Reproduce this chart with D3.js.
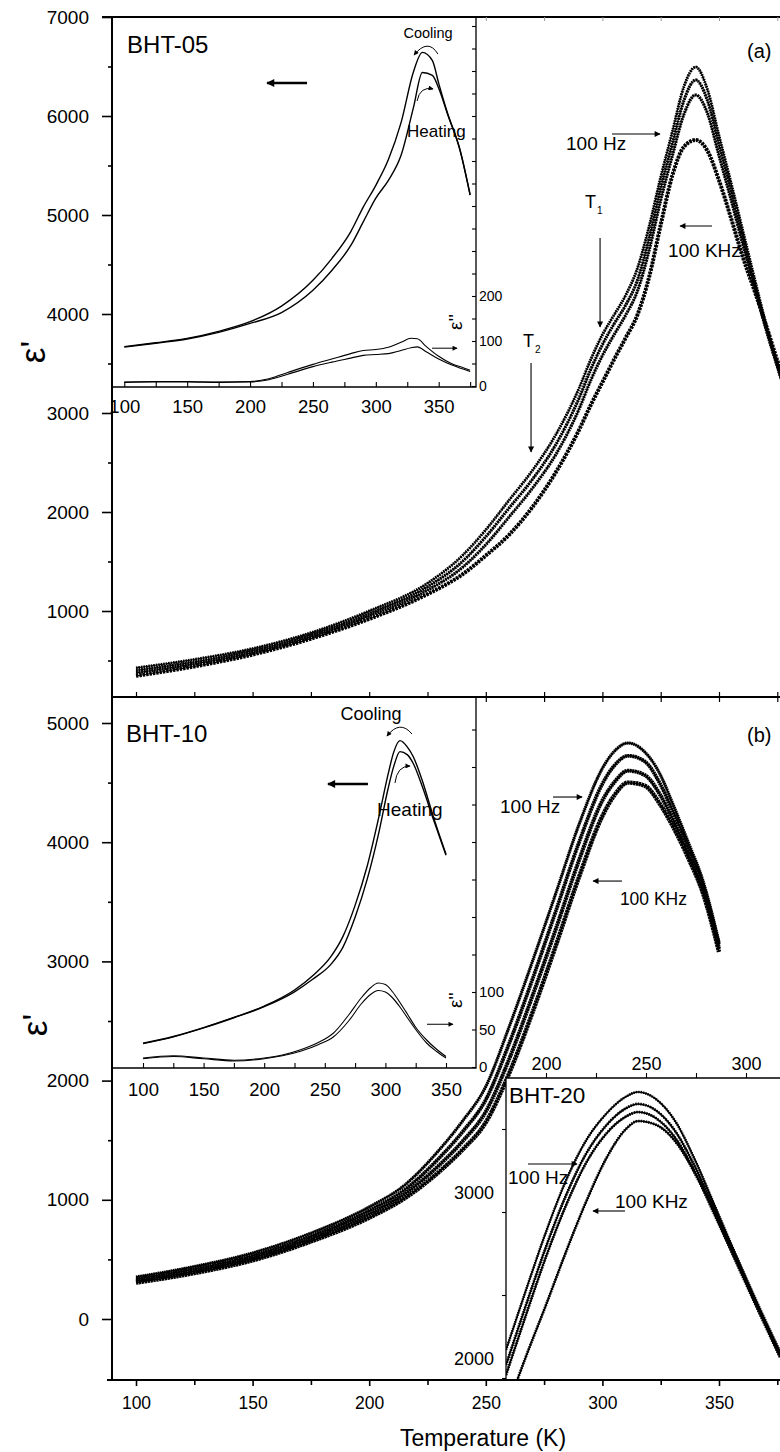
<!DOCTYPE html>
<html><head><meta charset="utf-8">
<script src="https://cdn.jsdelivr.net/npm/d3@7"></script>
<style>
body{margin:0;background:#fff}
svg{display:block;background:#fff}
text{font-family:"Liberation Sans",Arial,Helvetica,sans-serif;fill:#000}
</style>
</head><body>
<svg id="c" width="780" height="1452"></svg>
<script>
// ---------------- DATA ----------------
// Panel (a): BHT-05, eps' vs T at four frequencies (100 Hz ... 100 kHz)
const tA = [100,125,150,175,200,225,240,250,260,270,280,290,295,300,305,310,315,320,325,330,335,340,345,350,355,360,365,370,375,380];
const epsA_100Hz = [425,510,620,780,1000,1280,1560,1820,2120,2420,2780,3250,3540,3790,3990,4190,4460,4880,5380,5840,6300,6495,6270,5800,5340,4860,4380,3910,3490,3100];
const epsA_1kHz  = [400,485,600,760,975,1245,1500,1750,2040,2330,2680,3150,3440,3690,3900,4090,4340,4760,5270,5720,6160,6364,6160,5710,5260,4790,4330,3880,3480,3100];
const epsA_10kHz = [375,465,580,740,950,1210,1440,1670,1950,2240,2580,3040,3330,3580,3790,3990,4230,4640,5150,5600,6020,6212,6030,5600,5170,4720,4290,3860,3470,3100];
const epsA_100kHz= [345,440,560,720,920,1170,1370,1560,1770,2050,2400,2830,3080,3310,3540,3760,3990,4370,4900,5400,5690,5758,5650,5350,4980,4590,4250,3900,3530,3180];

// Panel (b): BHT-10 main curves
const tB = [100,125,150,175,200,215,230,240,250,260,270,280,290,300,305,311,318,325,330,337,343,350];
const epsB_100Hz = [352,440,554,720,940,1120,1418,1660,1950,2450,3000,3570,4150,4620,4760,4832,4760,4560,4330,3990,3683,3160];
const epsB_1kHz  = [335,420,532,695,910,1080,1350,1570,1840,2310,2850,3420,4000,4490,4640,4725,4680,4480,4270,3950,3650,3140];
const epsB_10kHz = [320,402,512,672,880,1045,1290,1490,1740,2180,2710,3270,3850,4350,4500,4600,4565,4390,4200,3900,3610,3110];
const epsB_100kHz= [305,385,492,650,850,1010,1235,1420,1650,2060,2570,3130,3710,4220,4390,4500,4475,4310,4140,3860,3580,3080];

// Inset BHT-05: cooling / heating eps' and eps''
const tIA = [100,125,150,175,200,225,250,265,280,290,300,310,320,330,337,345,350,357,367,375];
const epsIA_cool = [3670,3710,3754,3825,3922,4080,4340,4560,4830,5080,5300,5560,5930,6450,6643,6560,6330,6030,5657,5202];
const epsIA_heat = [3665,3705,3748,3815,3905,4015,4240,4440,4690,4930,5170,5350,5600,6090,6440,6410,6280,6020,5650,5202];
const tIA2 = [100,125,150,175,200,215,230,250,265,280,290,300,310,320,328,333,340,350,360,370,375];
const eps2IA_cool = [9,10,10,9,10,16,30,48,60,72,79,81,86,97,106,105,88,66,50,40,35];
const eps2IA_heat = [8,9,9,8,9,14,26,43,53,62,68,70,72,79,85,87,76,60,47,37,32];

// Inset BHT-10: cooling / heating eps' and eps''
const tIB = [100,125,150,175,200,225,240,255,265,275,285,295,302,307,312,318,323,330,340,350];
const epsIB_cool = [2313,2370,2445,2530,2625,2760,2880,3040,3210,3470,3800,4230,4560,4760,4852,4800,4717,4530,4200,3900];
const epsIB_heat = [2310,2367,2442,2527,2620,2745,2850,2975,3120,3370,3690,4100,4440,4640,4760,4735,4660,4480,4180,3890];
const tIB2 = [100,125,150,175,200,215,230,245,257,270,280,288,294,300,306,312,318,325,334,342,350];
const eps2IB_cool = [12,15,12,9,12,16,23,33,45,70,92,106,112,110,100,86,71,53,36,24,14];
const eps2IB_heat = [11,14,11,8,11,15,21,30,40,62,84,97,102,100,92,80,66,50,32,21,12];

// Inset BHT-20: four frequencies
const tC = [180,190,200,210,220,230,240,246,255,265,275,285,295,305,317];
const epsC_100Hz = [2169,2530,2880,3190,3430,3590,3695,3723,3680,3540,3300,3020,2740,2470,2160];
const epsC_1kHz  = [2078,2440,2790,3100,3350,3520,3625,3651,3612,3480,3260,3000,2725,2455,2145];
const epsC_10kHz = [2018,2380,2730,3040,3295,3470,3575,3602,3565,3440,3230,2985,2712,2445,2135];
const epsC_100kHz= [1800,2130,2440,2760,3060,3320,3500,3548,3525,3420,3220,2965,2700,2435,2125];

// Tick labels
const xTicksMain = [100,150,200,250,300,350];
const xMinorMain = [125,175,225,275,325,375];
const yTicksA = [1000,2000,3000,4000,5000,6000,7000];
const yMinorA = [500,1500,2500,3500,4500,5500,6500];
const yTicksB = [0,1000,2000,3000,4000,5000];
const yMinorB = [500,1500,2500,3500,4500];
const xTicksInset = [100,150,200,250,300,350];
const yTicksIA2 = [0,100,200];
const yTicksIB2 = [0,50,100];
const xTicksIC = [200,250,300];
const yTicksIC = [2000,3000];

// ---------------- SCALES / LAYOUT ----------------
const FONT = '"Liberation Sans",Arial,Helvetica,sans-serif';
const svg = d3.select("#c");
const x  = d3.scaleLinear().domain([100,350]).range([136,719]);
const yA = d3.scaleLinear().domain([3000,7000]).range([413,17]);
const yB = d3.scaleLinear().domain([0,5000]).range([1319,723]);
const L = 112, R = 792, TOP = 17, MID = 697, BOT = 1380;

const xIA = d3.scaleLinear().domain([100,350]).range([124.3,438.7]);
const yIA2 = d3.scaleLinear().domain([0,200]).range([386,296]);
const IA = {x0:112, y0:17, x1:476, y1:387};

const xIB = d3.scaleLinear().domain([100,350]).range([143,446]);
const yIB2 = d3.scaleLinear().domain([0,100]).range([1067,992]);
const IB = {x0:113, y0:697, x1:476, y1:1068};

const xIC = d3.scaleLinear().domain([200,300]).range([546,746]);
const yIC = d3.scaleLinear().domain([2000,3000]).range([1378,1212]);
const IC = {x0:506, y0:1078, x1:792, y1:1380};

// ---------------- DEFS ----------------
const defs = svg.append("defs");
function clip(id, r){ defs.append("clipPath").attr("id",id).append("rect")
  .attr("x",r.x0).attr("y",r.y0).attr("width",r.x1-r.x0).attr("height",r.y1-r.y0); }
clip("cA",{x0:L,y0:TOP,x1:R,y1:MID});
clip("cB",{x0:L,y0:MID,x1:R,y1:BOT});
clip("cIA",IA); clip("cIB",IB); clip("cIC",IC);
function marker(id,w,h){
  defs.append("marker").attr("id",id).attr("viewBox","0 0 10 10").attr("refX",9).attr("refY",5)
    .attr("markerWidth",w).attr("markerHeight",h).attr("markerUnits","userSpaceOnUse").attr("orient","auto")
    .append("path").attr("d","M0,0L10,5L0,10z").attr("fill","#000");
}
marker("ah",8,6); marker("ahB",10,8); marker("ahS",6,5);

// ---------------- HELPERS ----------------
function series(g, ts, vs, sx, sy, lw, bw, dash){
  const data = ts.map((t,i)=>[t,vs[i]]);
  const gen = d3.line().x(d=>sx(d[0])).y(d=>sy(d[1])).curve(d3.curveMonotoneX);
  g.append("path").attr("d",gen(data)).attr("fill","none").attr("stroke","#000").attr("stroke-width",lw);
  if(bw) g.append("path").attr("d",gen(data)).attr("fill","none").attr("stroke","#000")
      .attr("stroke-width",bw).attr("stroke-dasharray",dash);
}
function text(g, px, py, s, size, anchor){
  return g.append("text").attr("x",px).attr("y",py).attr("font-size",size)
    .attr("text-anchor",anchor||"start").text(s);
}
function arrow(g, x1,y1,x2,y2, w, m){
  g.append("line").attr("x1",x1).attr("y1",y1).attr("x2",x2).attr("y2",y2)
    .attr("stroke","#000").attr("stroke-width",w).attr("marker-end","url(#"+m+")");
}
function curved(g, p0, c, p1, m){
  g.append("path").attr("d",`M${p0[0]},${p0[1]}Q${c[0]},${c[1]} ${p1[0]},${p1[1]}`)
    .attr("fill","none").attr("stroke","#000").attr("stroke-width",1).attr("marker-end","url(#"+m+")");
}
function styleAxis(g, size, sw, col){
  g.select(".domain").remove();
  g.attr("font-family",FONT).attr("font-size",size);
  g.selectAll("line").attr("stroke",col||"#000").attr("stroke-width",sw||1.3);
  g.selectAll("text").attr("fill","#000");
  return g;
}
function stepTicks(a,b,s){ const r=[]; for(let v=a; v<=b+1e-9; v+=s) r.push(v); return r; }

// ---------------- MAIN CURVES ----------------
const gA = svg.append("g").attr("clip-path","url(#cA)");
series(gA,tA,epsA_100Hz,x,yA,1,3,"1.6,0.9");
series(gA,tA,epsA_1kHz,x,yA,1,3.2,"1.8,0.8");
series(gA,tA,epsA_10kHz,x,yA,1,3.2,"1.8,0.8");
series(gA,tA,epsA_100kHz,x,yA,1,4,"2.4,1");

const gB = svg.append("g").attr("clip-path","url(#cB)");
series(gB,tB,epsB_100Hz,x,yB,1.4,3.2,"1.6,0.6");
series(gB,tB,epsB_1kHz,x,yB,1.4,3.8,"2,0.5");
series(gB,tB,epsB_10kHz,x,yB,1.4,4,"2,0.5");
series(gB,tB,epsB_100kHz,x,yB,1.4,4.4,"2.4,0.5");

// ---------------- INSET BHT-05 ----------------
const ia = svg.append("g");
ia.append("rect").attr("x",IA.x0).attr("y",IA.y0).attr("width",IA.x1-IA.x0).attr("height",IA.y1-IA.y0).attr("fill","#fff");
const iac = ia.append("g").attr("clip-path","url(#cIA)");
series(iac,tIA,epsIA_cool,xIA,yA,1.4);
series(iac,tIA,epsIA_heat,xIA,yA,1.4);
series(iac,tIA2,eps2IA_cool,xIA,yIA2,1.1);
series(iac,tIA2,eps2IA_heat,xIA,yIA2,1.1);
ia.append("path").attr("d",`M${IA.x1},${IA.y0}V${IA.y1}H${IA.x0}`).attr("fill","none").attr("stroke","#000").attr("stroke-width",1.3);
styleAxis(ia.append("g").attr("transform",`translate(0,${IA.y1})`)
  .call(d3.axisTop(xIA).tickValues(stepTicks(100,375,25)).tickSize(5).tickFormat("")),12,1.1);
styleAxis(ia.append("g").attr("transform",`translate(0,${IA.y1})`)
  .call(d3.axisBottom(xIA).tickValues(xTicksInset).tickSize(0).tickPadding(13).tickFormat(d3.format("d"))),18.5,1.1);
styleAxis(ia.append("g").attr("transform",`translate(${IA.x1},0)`)
  .call(d3.axisLeft(yIA2).tickValues(stepTicks(0,800,50)).tickSize(4).tickFormat("")),12,1.1);
styleAxis(ia.append("g").attr("transform",`translate(${IA.x1},0)`)
  .call(d3.axisRight(yIA2).tickValues(yTicksIA2).tickSize(0).tickPadding(3).tickFormat(d3.format("d"))),14,1.1);
text(ia, xIA(102.2), yA(6636), "BHT-05", 24);
text(ia, xIA(341.5), yA(6788), "Cooling", 14.5, "middle");
curved(ia,[xIA(349.4),yA(6626)],[xIA(341.5),yA(6790)],[xIA(330.4),yA(6616)],"ahS");
text(ia, xIA(324.8), yA(5788), "Heating", 17);
curved(ia,[xIA(332.8),yA(6152)],[xIA(335.1),yA(6303)],[xIA(345.5),yA(6273)],"ahS");
arrow(ia, xIA(245.3),yA(6333),xIA(213.5),yA(6333),2.4,"ahB");
ia.append("text").attr("transform",`translate(${xIA(363)},${yIA2(142)}) rotate(-90)`)
  .attr("text-anchor","middle").attr("dy","0.35em").attr("font-size",19).text("ε''");
arrow(ia, xIA(344.7),yIA2(84),xIA(364.6),yIA2(84),1,"ahS");

// ---------------- INSET BHT-10 ----------------
const ib = svg.append("g");
ib.append("rect").attr("x",IB.x0).attr("y",IB.y0).attr("width",IB.x1-IB.x0).attr("height",IB.y1-IB.y0).attr("fill","#fff");
const ibc = ib.append("g").attr("clip-path","url(#cIB)");
series(ibc,tIB,epsIB_cool,xIB,yB,1.4);
series(ibc,tIB,epsIB_heat,xIB,yB,1.4);
series(ibc,tIB2,eps2IB_cool,xIB,yIB2,1.1);
series(ibc,tIB2,eps2IB_heat,xIB,yIB2,1.1);
ib.append("path").attr("d",`M${IB.x1},${IB.y0}V${IB.y1}H${IB.x0}`).attr("fill","none").attr("stroke","#000").attr("stroke-width",1.3);
styleAxis(ib.append("g").attr("transform",`translate(0,${IB.y1})`)
  .call(d3.axisTop(xIB).tickValues(stepTicks(100,350,25)).tickSize(5).tickFormat("")),12,1.1);
styleAxis(ib.append("g").attr("transform",`translate(0,${IB.y1})`)
  .call(d3.axisBottom(xIB).tickValues(xTicksInset).tickSize(0).tickPadding(15).tickFormat(d3.format("d"))),18.5,1.1);
styleAxis(ib.append("g").attr("transform",`translate(${IB.x1},0)`)
  .call(d3.axisLeft(yIB2).tickValues(stepTicks(0,450,50)).tickSize(4).tickFormat("")),12,1.1);
styleAxis(ib.append("g").attr("transform",`translate(${IB.x1},0)`)
  .call(d3.axisRight(yIB2).tickValues(yTicksIB2).tickSize(0).tickPadding(3).tickFormat(d3.format("d"))),15,1.1);
text(ib, 126, yB(4841), "BHT-10", 24);
text(ib, xIB(288.1), yB(5025), "Cooling", 18, "middle");
curved(ib,[xIB(321.9),yB(4908)],[xIB(312),yB(5030)],[xIB(301.3),yB(4891)],"ahS");
text(ib, xIB(293.1), yB(4220), "Heating", 19);
curved(ib,[xIB(307.9),yB(4497)],[xIB(309.5),yB(4640)],[xIB(320.3),yB(4639)],"ahS");
arrow(ib, xIB(285.6),yB(4488),xIB(252.6),yB(4488),2.4,"ahB");
ib.append("text").attr("transform",`translate(${xIB(357.4)},${yIB2(89)}) rotate(-90)`)
  .attr("text-anchor","middle").attr("dy","0.35em").attr("font-size",19).text("ε''");
arrow(ib, xIB(334.3),yIB2(57),xIB(355.8),yIB2(57),1,"ahS");

// ---------------- INSET BHT-20 ----------------
const ic = svg.append("g");
ic.append("rect").attr("x",IC.x0).attr("y",IC.y0).attr("width",IC.x1-IC.x0).attr("height",IC.y1-IC.y0).attr("fill","#fff");
const icc = ic.append("g").attr("clip-path","url(#cIC)");
series(icc,tC,epsC_100Hz,xIC,yIC,1.6,2.6,"1.2,1.2");
series(icc,tC,epsC_1kHz,xIC,yIC,1.6,2.8,"1.4,1.1");
series(icc,tC,epsC_10kHz,xIC,yIC,1.6,2.8,"1.4,1.1");
series(icc,tC,epsC_100kHz,xIC,yIC,1.6,2.8,"1.4,1.1");
ic.append("path").attr("d",`M${IC.x0},${IC.y1}V${IC.y0}H${IC.x1}`).attr("fill","none").attr("stroke","#000").attr("stroke-width",1.3);
styleAxis(ic.append("g").attr("transform",`translate(0,${IC.y0})`)
  .call(d3.axisTop(xIC).tickValues(stepTicks(200,300,25)).tickSize(5).tickFormat("")),12,1.1);
styleAxis(ic.append("g").attr("transform",`translate(0,${IC.y0})`)
  .call(d3.axisTop(xIC).tickValues(xTicksIC).tickSize(0).tickPadding(8).tickFormat(d3.format("d"))),18,1.1);
styleAxis(ic.append("g").attr("transform",`translate(${IC.x0},0)`)
  .call(d3.axisLeft(yIC).tickValues([2000,2500,3000,3500]).tickSize(4).tickFormat("")),12,1.1);
yTicksIC.forEach(v=>{
  ic.append("text").attr("x",IC.x0-12).attr("y",yIC(v)-19).attr("dy","0.35em")
    .attr("text-anchor","end").attr("font-size",18).text(v);
});
text(ic, xIC(181.5), yIC(3657), "BHT-20", 22.5);
text(ic, xIC(181), yIC(3169), "100 Hz", 19);
arrow(ic, xIC(191),yIC(3289),xIC(215.5),yIC(3289),1.1,"ah");
text(ic, xIC(234.5), yIC(3024), "100 KHz", 19);
arrow(ic, xIC(239.5),yIC(3006),xIC(223.5),yIC(3006),1.1,"ah");

// ---------------- MAIN AXES / FRAMES ----------------
const fr = svg.append("g").attr("stroke","#000").attr("fill","none");
fr.append("line").attr("x1",L).attr("x2",L).attr("y1",TOP).attr("y2",BOT).attr("stroke-width",2);
fr.append("line").attr("x1",L-10).attr("x2",780).attr("y1",TOP).attr("y2",TOP).attr("stroke-width",2.2);
fr.append("line").attr("x1",L).attr("x2",780).attr("y1",MID).attr("y2",MID).attr("stroke-width",2.2);
fr.append("line").attr("x1",L-5).attr("x2",780).attr("y1",BOT).attr("y2",BOT).attr("stroke-width",2.2);

styleAxis(svg.append("g").attr("transform",`translate(${L},0)`)
  .call(d3.axisLeft(yA).tickValues(yTicksA).tickSize(10).tickPadding(13).tickFormat(d3.format("d"))),19,1.6);
styleAxis(svg.append("g").attr("transform",`translate(${L},0)`)
  .call(d3.axisLeft(yA).tickValues(yMinorA).tickSize(4).tickFormat("")),12,1.6);
styleAxis(svg.append("g").attr("transform",`translate(${L},0)`)
  .call(d3.axisLeft(yB).tickValues(yTicksB).tickSize(10).tickPadding(13).tickFormat(d3.format("d"))),19,1.6);
styleAxis(svg.append("g").attr("transform",`translate(${L},0)`)
  .call(d3.axisLeft(yB).tickValues(yMinorB).tickSize(4).tickFormat("")),12,1.6);

styleAxis(svg.append("g").attr("transform",`translate(0,${BOT})`)
  .call(d3.axisBottom(x).tickValues(xTicksMain).tickSize(6).tickPadding(11).tickFormat(d3.format("d"))),17.5,1.6);
styleAxis(svg.append("g").attr("transform",`translate(0,${BOT})`)
  .call(d3.axisBottom(x).tickValues(xMinorMain).tickSize(5).tickFormat("")),12,1.6);

const allX = stepTicks(100,375,25);
styleAxis(svg.append("g").attr("transform",`translate(0,${TOP})`)
  .call(d3.axisBottom(x).tickValues(allX.filter(v=>x(v)>IA.x1)).tickSize(4).tickFormat("")),12,1,"#999");
styleAxis(svg.append("g").attr("transform",`translate(0,${MID})`)
  .call(d3.axisTop(x).tickValues(allX).tickSize(5).tickFormat("")),12,1.2);
styleAxis(svg.append("g").attr("transform",`translate(0,${MID})`)
  .call(d3.axisBottom(x).tickValues(allX.filter(v=>x(v)>IB.x1)).tickSize(5).tickFormat("")),12,1.2);

// axis titles
svg.append("text").attr("transform","translate(45,352) rotate(-90)").attr("text-anchor","middle")
  .attr("font-size",35).text("ε'");
svg.append("text").attr("transform","translate(47,1025) rotate(-90)").attr("text-anchor","middle")
  .attr("font-size",35).text("ε'");
svg.append("text").attr("x",483).attr("y",1446).attr("text-anchor","middle").attr("font-size",23).text("Temperature (K)");

// ---------------- PANEL ANNOTATIONS ----------------
const an = svg.append("g");
text(an, x(284.4), yA(5657), "100 Hz", 19);
arrow(an, x(304.1),yA(5818),x(324.7),yA(5818),1.1,"ah");
text(an, x(328.1), yA(4576), "100 KHz", 19);
arrow(an, x(347),yA(4889),x(333.3),yA(4889),1.1,"ah");
const t1 = text(an, x(292.5), yA(5071), "T", 18); t1.append("tspan").attr("font-size",10).attr("dy",6).attr("dx",1).text("1");
arrow(an, x(299),yA(4768),x(299),yA(3869),1.1,"ah");
const t2 = text(an, x(266), yA(3667), "T", 18); t2.append("tspan").attr("font-size",10).attr("dy",6).attr("dx",1).text("2");
arrow(an, x(269.4),yA(3505),x(269.4),yA(2606),1.1,"ah");
text(an, x(362), yA(6586), "(a)", 20);

text(an, x(256.1), yB(4245), "100 Hz", 19);
arrow(an, x(278.8),yB(4379),x(291.3),yB(4379),1.1,"ah");
text(an, x(307.5), yB(3473), "100 KHz", 17.5);
arrow(an, x(308.4),yB(3674),x(296),yB(3674),1.1,"ah");
text(an, x(362), yB(4841), "(b)", 20);
</script>
</body></html>
